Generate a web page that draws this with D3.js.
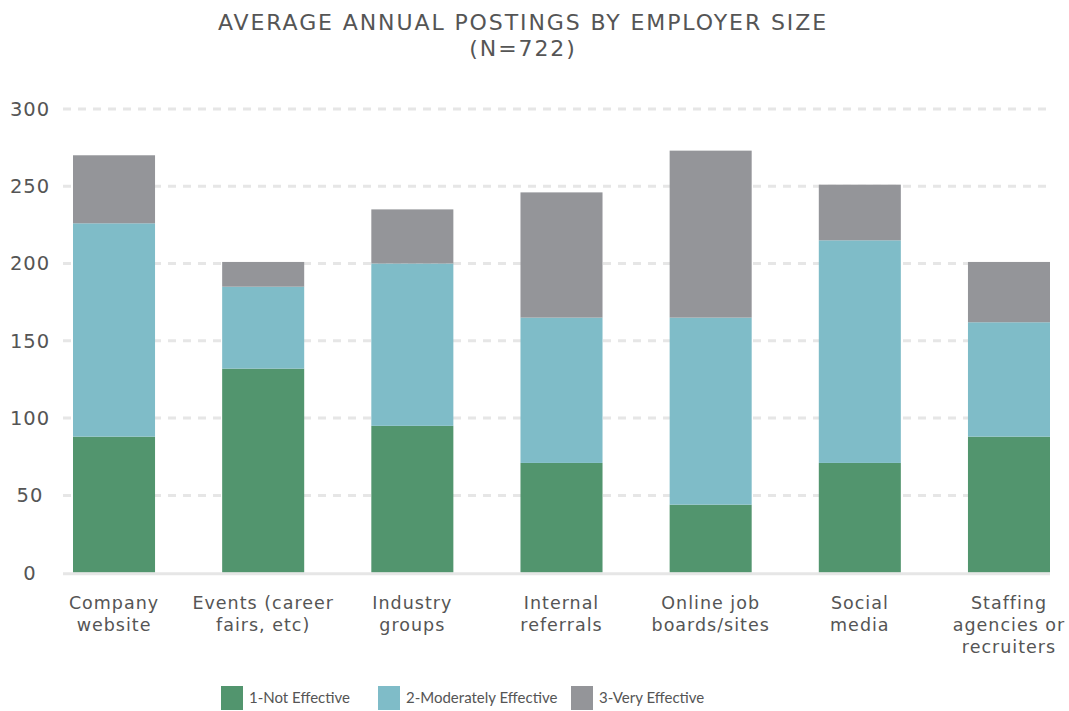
<!DOCTYPE html>
<html><head><meta charset="utf-8">
<script src="https://cdn.jsdelivr.net/npm/d3@7"></script>
<style>body{margin:0;background:#fff;} svg{display:block;}</style>
</head><body>
<svg id="c" width="1069" height="711"></svg>
<script>
const categories = [["Company","website"],["Events (career","fairs, etc)"],["Industry","groups"],["Internal","referrals"],["Online job","boards/sites"],["Social","media"],["Staffing","agencies or","recruiters"]];
const seriesNames = ["1-Not Effective","2-Moderately Effective","3-Very Effective"];
const notEffective = [88,132,95,71,44,71,88];
const moderatelyEffective = [138,53,105,94,121,144,74];
const veryEffective = [44,16,35,81,108,36,39];
const yTicks = [0,50,100,150,200,250,300];
const colors = ["#52956E","#7FBCC8","#949599"];

const svg = d3.select("#c");
const font = "'DejaVu Sans', sans-serif";
const legFont = "Lato, sans-serif";
const textColor = "#555555";

const keys = categories.map(c => c.join(" "));
const rows = keys.map((k,i)=>({key:k, s0:notEffective[i], s1:moderatelyEffective[i], s2:veryEffective[i]}));
const stack = d3.stack().keys(["s0","s1","s2"])(rows);

const x = d3.scaleBand().domain(keys).range([73,1050]).paddingInner(0.45).paddingOuter(0);
const y = d3.scaleLinear().domain([0,300]).range([572.7,108.9]);

// gridlines
svg.append("g").selectAll("line").data(yTicks.filter(t=>t>0)).join("line")
  .attr("x1",63).attr("x2",1050).attr("y1",d=>y(d)).attr("y2",d=>y(d))
  .attr("stroke","#e6e6e6").attr("stroke-width",3).attr("stroke-dasharray","8,7");

// y labels
svg.append("g").selectAll("text").data(yTicks).join("text")
  .attr("x",30).attr("y",d=>y(d)).attr("dy","0.35em").attr("text-anchor","middle")
  .attr("font-family",font).attr("font-size",19.5).attr("letter-spacing",1).attr("fill",textColor).text(d=>d);

// bars
svg.append("g").selectAll("g").data(stack).join("g").attr("fill",(d,i)=>colors[i])
  .selectAll("rect").data(d=>d).join("rect")
  .attr("x",d=>x(d.data.key)).attr("width",x.bandwidth())
  .attr("y",d=>y(d[1])).attr("height",d=>y(d[0])-y(d[1]));

// baseline
svg.append("line").attr("x1",63).attr("x2",1050).attr("y1",y(0)+1).attr("y2",y(0)+1)
  .attr("stroke","#e6e6e6").attr("stroke-width",3);

// x labels
const xl = svg.append("g").selectAll("text").data(categories).join("text")
  .attr("text-anchor","middle").attr("font-family",font).attr("font-size",17.5).attr("letter-spacing",1).attr("fill",textColor)
  .attr("transform",(d,i)=>`translate(${x(keys[i])+x.bandwidth()/2},609)`);
xl.selectAll("tspan").data(d=>d).join("tspan").attr("x",0).attr("y",(d,j)=>j*22).text(d=>d);

// title
svg.append("text").attr("x",523).attr("y",30).attr("text-anchor","middle")
  .attr("font-family",font).attr("font-size",22).attr("letter-spacing",1.9).attr("fill",textColor).text("AVERAGE ANNUAL POSTINGS BY EMPLOYER SIZE");
svg.append("text").attr("x",523).attr("y",56).attr("text-anchor","middle")
  .attr("font-family",font).attr("font-size",22).attr("letter-spacing",1.9).attr("fill",textColor).text("(N=722)");

// legend
const legX = [221,378,571];
const lg = svg.append("g").selectAll("g").data(seriesNames).join("g")
  .attr("transform",(d,i)=>`translate(${legX[i]},686)`);
lg.append("rect").attr("width",22).attr("height",24).attr("fill",(d,i)=>colors[i]);
lg.append("text").attr("x",28).attr("y",12).attr("dy","0.35em")
  .attr("font-family",legFont).attr("font-size",15).attr("fill",textColor).text(d=>d);
</script>
</body></html>
